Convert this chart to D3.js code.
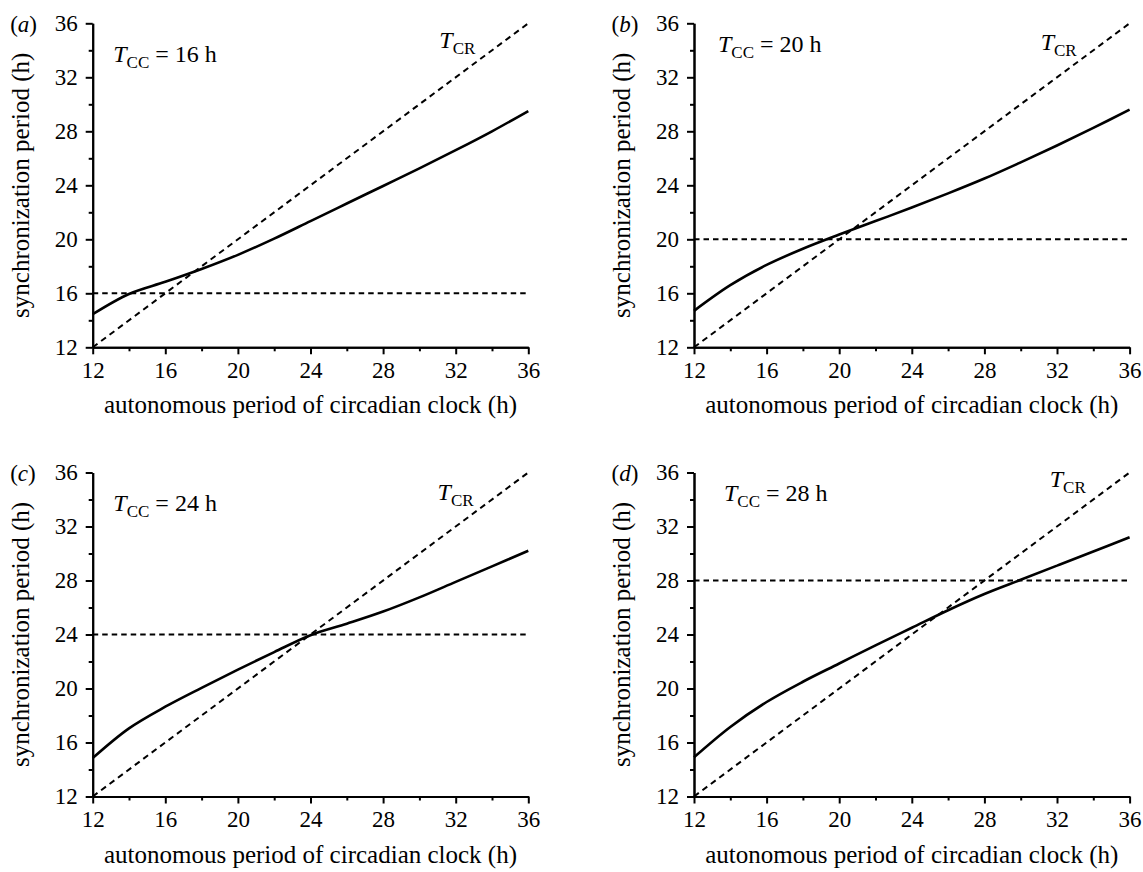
<!DOCTYPE html>
<html lang="en">
<head>
  <meta charset="UTF-8">
  <title>synchronization period</title>
  <style>
    body { margin: 0; background: #fff; }
    svg { display: block; }
    text { font-family: "Liberation Serif", "Times New Roman", serif; fill: #000; }
  </style>
</head>
<body>
  <svg id="container" width="1143" height="872"></svg>
</body>
<script src="https://cdn.jsdelivr.net/npm/d3@7"></script>
<script>
  // autonomous period of circadian clock (h)
  let autonomousPeriod = [12, 14, 16, 18, 20, 22, 24, 26, 28, 30, 32, 34, 36]
  // synchronization period (h), one series per panel
  let syncA = [14.45, 15.95, 16.85, 17.8, 18.85, 20.05, 21.35, 22.65, 23.95, 25.25, 26.6, 28.0, 29.5]
  let syncB = [14.7, 16.6, 18.1, 19.3, 20.35, 21.35, 22.35, 23.4, 24.5, 25.7, 26.95, 28.25, 29.6]
  let syncC = [14.85, 17.05, 18.65, 20.05, 21.4, 22.7, 23.95, 24.8, 25.7, 26.75, 27.9, 29.05, 30.2]
  let syncD = [14.9, 17.15, 19.0, 20.5, 21.85, 23.2, 24.5, 25.8, 27.0, 28.05, 29.1, 30.15, 31.2]
  let tccValues = [16, 20, 24, 28]
  let panelLetters = ["a", "b", "c", "d"]
  let majorTicks = [12, 16, 20, 24, 28, 32, 36]
  let minorTicks = [14, 18, 22, 26, 30, 34]

  let series = [syncA, syncB, syncC, syncD]

  // layout of the four panels
  let plotW = 435.6, plotH = 324
  let panels = [
    {left: 92.7, top: 23.3, tcc: [20.5, 38.4], tcr: [31.1, 34.15]},
    {left: 694, top: 23.3, tcc: [24, 28.4], tcr: [31.1, 34.05]},
    {left: 92.7, top: 472.5, tcc: [20.6, 38.8], tcr: [31.0, 34.0]},
    {left: 694, top: 472.5, tcc: [30, 28.8], tcr: [31.6, 34.95]}
  ]

  let svg = d3.select("#container")

  let x = d3.scaleLinear().domain([12, 36]).range([0, plotW])
  let y = d3.scaleLinear().domain([12, 36]).range([plotH, 0])

  let line = d3.line()
               .x(d => x(d[0]))
               .y(d => y(d[1]))
               .curve(d3.curveCatmullRom.alpha(0.5))

  function styleAxis(g){
    g.select(".domain").attr("stroke", "#000").attr("stroke-width", 2)
    g.selectAll(".tick line").attr("stroke", "#000").attr("stroke-width", 2)
    g.selectAll(".tick text").style("font-size", "23px").attr("fill", "#000")
  }

  panels.forEach((p, i) => {
    let g = svg.append("g").attr("transform", `translate(${p.left},${p.top})`)
    let tcc = tccValues[i]

    // minor ticks
    g.append("g").attr("transform", `translate(0,${plotH})`)
     .call(d3.axisBottom(x).tickValues(minorTicks).tickSize(4).tickSizeOuter(0).tickFormat(""))
     .call(styleAxis)
    g.append("g")
     .call(d3.axisLeft(y).tickValues(minorTicks).tickSize(4).tickSizeOuter(0).tickFormat(""))
     .call(styleAxis)

    // major ticks
    g.append("g").attr("transform", `translate(0,${plotH})`)
     .call(d3.axisBottom(x).tickValues(majorTicks).tickSize(7).tickSizeOuter(0).tickPadding(7))
     .call(styleAxis)
    g.append("g")
     .call(d3.axisLeft(y).tickValues(majorTicks).tickSize(7).tickSizeOuter(0).tickPadding(8))
     .call(styleAxis)

    // T_CR diagonal
    g.append("path")
     .datum([[12, 12], [36, 36]])
     .attr("d", d3.line().x(d => x(d[0])).y(d => y(d[1])))
     .attr("fill", "none")
     .attr("stroke", "#000")
     .attr("stroke-width", 2)
     .attr("stroke-dasharray", "6,4.5")

    // T_CC horizontal
    g.append("path")
     .datum([[12, tcc], [36, tcc]])
     .attr("d", d3.line().x(d => x(d[0])).y(d => y(d[1])))
     .attr("fill", "none")
     .attr("stroke", "#000")
     .attr("stroke-width", 2)
     .attr("stroke-dasharray", "5.5,4")

    // synchronization period curve
    g.append("path")
     .datum(autonomousPeriod.map((v, j) => [v, series[i][j]]))
     .attr("d", line)
     .attr("fill", "none")
     .attr("stroke", "#000")
     .attr("stroke-width", 2.6)

    // T_CC label
    let tl = g.append("text")
              .attr("x", p.tcc[0])
              .attr("y", p.tcc[1])
              .style("font-size", "24px")
    tl.append("tspan").style("font-style", "italic").text("T")
    tl.append("tspan").attr("dy", 6).style("font-size", "17px").text("CC")
    tl.append("tspan").attr("dy", -6).text(` = ${tcc} h`)

    // T_CR label
    let tr = g.append("text")
              .attr("x", x(p.tcr[0]))
              .attr("y", y(p.tcr[1]))
              .style("font-size", "24px")
    tr.append("tspan").style("font-style", "italic").text("T")
    tr.append("tspan").attr("dy", 6).style("font-size", "17px").text("CR")

    // panel letter
    let pl = g.append("text")
              .attr("x", -82.5)
              .attr("y", 8.4)
              .style("font-size", "23px")
    pl.append("tspan").text("(")
    pl.append("tspan").style("font-style", "italic").text(panelLetters[i])
    pl.append("tspan").text(")")

    // axis titles
    g.append("text")
     .attr("x", plotW / 2)
     .attr("y", plotH + 66)
     .attr("text-anchor", "middle")
     .style("font-size", "25px")
     .text("autonomous period of circadian clock (h)")

    g.append("text")
     .attr("transform", `translate(-64,${plotH / 2}) rotate(-90)`)
     .attr("text-anchor", "middle")
     .style("font-size", "25px")
     .text("synchronization period (h)")
  })
</script>
</html>
